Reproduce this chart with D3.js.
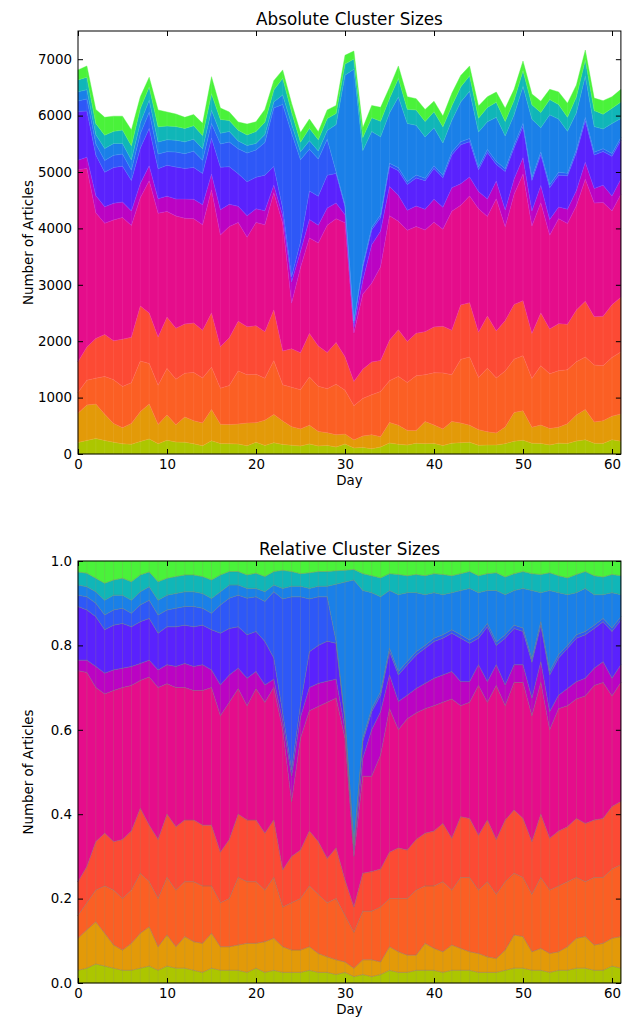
<!DOCTYPE html>
<html>
<head>
<meta charset="utf-8">
<script src="https://cdn.jsdelivr.net/npm/d3@7"></script>
<style>
  body { margin: 0; background: #fff; }
  text { font-family: "DejaVu Sans", sans-serif; fill: #000; }
</style>
</head>
<body>
<div id="chart"></div>
<script>
// day index (x categories)
const days = d3.range(62);

// total articles per day (top of the absolute chart)
const totals = [6810,6880,6110,5970,5990,5990,5745,6335,6680,6100,
  6064,6028,5970,6020,5863,6690,6135,6064,5887,5850,
  5890,6110,6620,6810,6220,5700,5940,5715,6100,6180,
  7070,7145,5785,6180,6146,6500,6880,6335,6300,6110,
  6255,5993,6395,6710,6880,6170,6335,6418,6130,6466,
  6968,6383,6255,6466,6420,6220,6543,7163,6310,6264,
  6335,6466];

// cumulative share (top edge) of each cluster group
const limeTop = [0.03,0.035,0.045,0.04,0.035,0.03,0.03,0.035,0.04,0.03,
  0.04,0.035,0.035,0.03,0.025,0.035,0.03,0.03,0.03,0.025,
  0.035,0.025,0.03,0.025,0.025,0.025,0.03,0.025,0.025,0.02,
  0.025,0.015,0.02,0.015,0.02,0.03,0.025,0.025,0.03,0.03,
  0.03,0.025,0.03,0.03,0.03,0.025,0.025,0.025,0.03,0.035,
  0.035,0.03,0.03,0.025,0.03,0.03,0.035,0.035,0.03,0.03,
  0.04,0.035];
const goldTop = [0.106,0.126,0.145,0.118,0.09,0.078,0.094,0.118,0.133,0.086,
  0.114,0.086,0.11,0.098,0.094,0.118,0.086,0.086,0.09,0.094,
  0.094,0.098,0.106,0.086,0.078,0.078,0.086,0.07,0.062,0.055,
  0.05,0.035,0.055,0.055,0.05,0.086,0.074,0.066,0.066,0.094,
  0.082,0.074,0.09,0.082,0.074,0.07,0.062,0.058,0.078,0.114,
  0.11,0.074,0.082,0.07,0.074,0.086,0.106,0.11,0.09,0.094,
  0.106,0.11];
const orangeTop = [0.16,0.19,0.22,0.23,0.22,0.2,0.22,0.26,0.24,0.2,
  0.25,0.22,0.24,0.24,0.23,0.23,0.19,0.2,0.25,0.24,
  0.24,0.22,0.25,0.18,0.19,0.2,0.23,0.21,0.19,0.2,
  0.16,0.12,0.17,0.17,0.18,0.2,0.2,0.2,0.22,0.23,
  0.23,0.24,0.22,0.25,0.25,0.22,0.24,0.21,0.24,0.26,
  0.25,0.21,0.25,0.22,0.23,0.24,0.25,0.24,0.25,0.25,
  0.27,0.28];
const redTop = [0.24,0.276,0.335,0.355,0.335,0.34,0.36,0.414,0.374,0.34,
  0.40,0.37,0.386,0.386,0.374,0.374,0.31,0.34,0.40,0.386,
  0.386,0.355,0.386,0.268,0.30,0.315,0.36,0.335,0.295,0.32,
  0.244,0.18,0.26,0.264,0.27,0.31,0.32,0.315,0.34,0.355,
  0.36,0.378,0.343,0.394,0.39,0.35,0.386,0.34,0.386,0.41,
  0.39,0.335,0.40,0.343,0.36,0.37,0.39,0.378,0.386,0.39,
  0.418,0.43];
const pinkTop = [0.74,0.736,0.70,0.685,0.693,0.70,0.705,0.717,0.725,0.70,
  0.709,0.70,0.70,0.693,0.693,0.70,0.633,0.665,0.697,0.657,
  0.697,0.665,0.70,0.60,0.43,0.58,0.645,0.655,0.665,0.675,
  0.58,0.30,0.49,0.49,0.54,0.65,0.60,0.626,0.64,0.65,
  0.657,0.665,0.673,0.657,0.665,0.705,0.665,0.705,0.657,0.712,
  0.712,0.633,0.712,0.60,0.65,0.657,0.673,0.68,0.705,0.712,
  0.68,0.712];
const purpleTop = [0.765,0.765,0.75,0.734,0.742,0.746,0.75,0.757,0.765,0.742,
  0.754,0.75,0.757,0.75,0.754,0.742,0.706,0.73,0.746,0.722,
  0.738,0.706,0.72,0.62,0.49,0.63,0.70,0.71,0.715,0.72,
  0.60,0.315,0.532,0.60,0.643,0.73,0.667,0.682,0.698,0.71,
  0.722,0.73,0.738,0.714,0.714,0.754,0.714,0.754,0.706,0.754,
  0.754,0.675,0.761,0.643,0.682,0.698,0.714,0.722,0.746,0.761,
  0.722,0.754];
const violetTop = [0.892,0.884,0.868,0.837,0.848,0.852,0.844,0.856,0.864,0.829,
  0.844,0.844,0.848,0.844,0.848,0.837,0.829,0.84,0.844,0.825,
  0.833,0.809,0.77,0.64,0.505,0.66,0.785,0.80,0.81,0.805,
  0.62,0.325,0.572,0.643,0.682,0.785,0.73,0.754,0.777,0.793,
  0.809,0.817,0.829,0.817,0.805,0.817,0.844,0.80,0.817,0.84,
  0.833,0.76,0.848,0.73,0.77,0.793,0.817,0.825,0.84,0.856,
  0.833,0.86];
const blueTop = [0.919,0.915,0.90,0.872,0.884,0.888,0.876,0.896,0.907,0.872,
  0.884,0.888,0.892,0.892,0.888,0.876,0.896,0.912,0.919,0.912,
  0.915,0.904,0.927,0.91,0.915,0.915,0.91,0.915,0.915,0.81,
  0.625,0.33,0.58,0.65,0.69,0.793,0.738,0.762,0.785,0.80,
  0.817,0.825,0.837,0.825,0.813,0.825,0.852,0.808,0.825,0.848,
  0.841,0.768,0.856,0.738,0.778,0.80,0.825,0.833,0.848,0.864,
  0.841,0.868];
const azureTop = [0.943,0.939,0.927,0.907,0.919,0.919,0.907,0.927,0.939,0.907,
  0.919,0.923,0.927,0.927,0.923,0.911,0.927,0.943,0.943,0.935,
  0.935,0.927,0.943,0.935,0.94,0.94,0.935,0.94,0.94,0.945,
  0.95,0.955,0.93,0.925,0.915,0.93,0.92,0.925,0.925,0.92,
  0.925,0.92,0.925,0.93,0.935,0.925,0.93,0.93,0.92,0.93,
  0.935,0.93,0.925,0.93,0.925,0.92,0.925,0.935,0.92,0.92,
  0.925,0.92];
const tealTop = [0.974,0.971,0.959,0.947,0.955,0.959,0.951,0.967,0.974,0.951,
  0.959,0.963,0.967,0.967,0.963,0.955,0.967,0.975,0.975,0.967,
  0.971,0.963,0.975,0.978,0.975,0.97,0.972,0.975,0.975,0.977,
  0.978,0.98,0.97,0.965,0.96,0.97,0.968,0.965,0.968,0.965,
  0.97,0.968,0.965,0.97,0.975,0.965,0.97,0.972,0.962,0.97,
  0.975,0.97,0.968,0.972,0.965,0.96,0.968,0.975,0.965,0.962,
  0.968,0.965];

const groupNames = ['lime','gold','orange','red','pink','purple','violet','blue','azure','teal','green'];
const groupTops = [limeTop, goldTop, orangeTop, redTop, pinkTop, purpleTop, violetTop, blueTop, azureTop, tealTop];
const groupColors = ['#acc600','#e39a08','#fb5f24','#fc4a34','#e50d8b','#bb03c3',
  '#5a22fd','#2e58f7','#1a80e8','#10b6b8','#4af23a'];

const dayTicks = [0,10,20,30,40,50,60];
const absTicks = [0,1000,2000,3000,4000,5000,6000,7000];
const relTicks = [0,0.2,0.4,0.6,0.8,1.0];

// build per-day shares and counts
const relRows = days.map((d, i) => {
  const row = { day: d };
  let prev = 0;
  groupNames.forEach((k, j) => {
    const top = j < groupTops.length ? groupTops[j][i] : 1;
    row[k] = Math.max(0, top - prev);
    prev = Math.max(prev, top);
  });
  return row;
});
const absRows = relRows.map((r, i) => {
  const row = { day: r.day };
  groupNames.forEach(k => row[k] = r[k] * totals[i]);
  return row;
});

const W = 623, H = 1019;
const svg = d3.select('#chart').append('svg')
  .attr('width', W).attr('height', H)
  .attr('viewBox', [0, 0, W, H]);

const left = 78, right = 620.9;
const x = d3.scaleLinear().domain([0, 61]).range([left, right]);

function panel(rows, yDomain, top, bottom, ticks, fmt, title, lineCol, vCol) {
  const y = d3.scaleLinear().domain(yDomain).range([bottom, top]);
  const series = d3.stack().keys(groupNames)(rows);
  const g = svg.append('g');

  const area = d3.area()
    .x(d => x(d.data.day))
    .y0(d => y(d[0]))
    .y1(d => y(d[1]));

  g.append('g').selectAll('path')
    .data(series)
    .join('path')
      .attr('d', area)
      .attr('fill', (d, i) => groupColors[i])
      .attr('stroke', (d, i) => groupColors[i])
      .attr('stroke-width', 0.4);

  // faint vertical seams at every day
  g.append('g').selectAll('line')
    .data(days.slice(1, -1))
    .join('line')
      .attr('x1', d => x(d)).attr('x2', d => x(d))
      .attr('y1', y(0)).attr('y2', d => y(series[series.length - 1][d][1]))
      .attr('stroke', vCol)
      .attr('stroke-width', 0.7);

  // boundaries between groups
  const edge = d3.line()
    .x(d => x(d.data.day))
    .y(d => y(d[1]));
  g.append('g').selectAll('path')
    .data(series.slice(0, -1))
    .join('path')
      .attr('d', edge)
      .attr('fill', 'none')
      .attr('stroke', lineCol)
      .attr('stroke-width', 0.8);

  // ticks, all pointing inward
  g.append('g')
    .attr('transform', `translate(0,${bottom})`)
    .call(d3.axisBottom(x).tickValues(dayTicks).tickSize(-5).tickPadding(5).tickFormat(d3.format('d')))
    .call(a => a.select('.domain').remove())
    .call(a => a.selectAll('text').attr('font-size', 13.4).attr('font-family', 'DejaVu Sans'));
  g.append('g')
    .attr('transform', `translate(0,${top})`)
    .call(d3.axisTop(x).tickValues(dayTicks).tickSize(-5).tickFormat(''))
    .call(a => a.select('.domain').remove());
  g.append('g')
    .attr('transform', `translate(${left},0)`)
    .call(d3.axisLeft(y).tickValues(ticks).tickSize(-5).tickPadding(6).tickFormat(fmt))
    .call(a => a.select('.domain').remove())
    .call(a => a.selectAll('text').attr('font-size', 13.4).attr('font-family', 'DejaVu Sans'));
  g.append('g')
    .attr('transform', `translate(${right},0)`)
    .call(d3.axisRight(y).tickValues(ticks).tickSize(-5).tickFormat(''))
    .call(a => a.select('.domain').remove());
  g.selectAll('.tick line').attr('stroke', '#000').attr('stroke-width', 1);

  g.append('rect')
    .attr('x', left).attr('y', top)
    .attr('width', right - left).attr('height', bottom - top)
    .attr('fill', 'none').attr('stroke', '#000').attr('stroke-width', 1);

  g.append('text')
    .attr('x', (left + right) / 2).attr('y', top - 6)
    .attr('text-anchor', 'middle').attr('font-size', 16.8)
    .text(title);
  g.append('text')
    .attr('x', (left + right) / 2).attr('y', bottom + 31)
    .attr('text-anchor', 'middle').attr('font-size', 13.4)
    .text('Day');
  g.append('text')
    .attr('transform', `translate(33,${(top + bottom) / 2}) rotate(-90)`)
    .attr('text-anchor', 'middle').attr('font-size', 13.4)
    .text('Number of Articles');
}

panel(absRows, [0, 7500], 31, 454, absTicks, d3.format('d'),
  'Absolute Cluster Sizes', 'rgba(255,255,255,0.12)', 'rgba(255,255,255,0.10)');
panel(relRows, [0, 1], 561, 983, relTicks, d3.format('.1f'),
  'Relative Cluster Sizes', 'rgba(128,128,110,0.6)', 'rgba(150,150,110,0.35)');
</script>
</body>
</html>
